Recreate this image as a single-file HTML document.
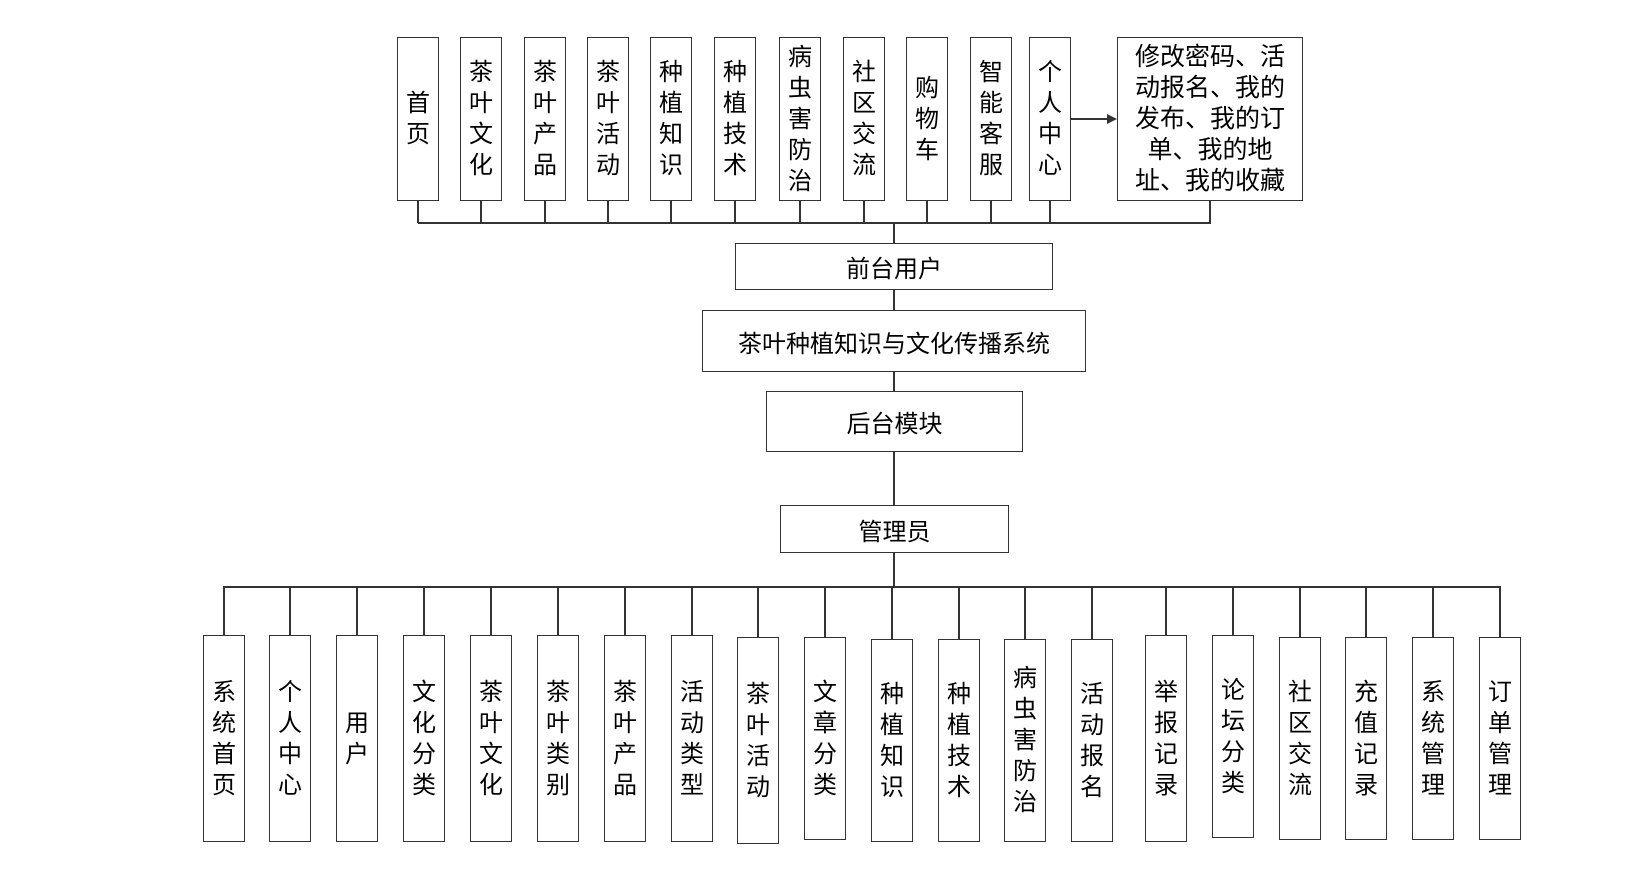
<!DOCTYPE html>
<html><head><meta charset="utf-8"><style>
body{margin:0;width:1641px;height:877px;background:#fff;position:relative;overflow:hidden;font-family:"Liberation Sans","Noto Sans CJK SC",sans-serif;color:#000}
.b{position:absolute;border:1.5px solid #333;box-sizing:border-box;display:flex;align-items:center;justify-content:center;text-align:center;background:#fff}
.v{font-size:24px;line-height:31px;width:26px;word-break:break-all}
.h{font-size:24px}
.l{position:absolute;background:#333}
</style></head><body>
<div class="b" style="left:397px;top:37px;width:42px;height:164px"><div class="v">首页</div></div>
<div class="b" style="left:460px;top:37px;width:42px;height:164px"><div class="v">茶叶文化</div></div>
<div class="b" style="left:524px;top:37px;width:42px;height:164px"><div class="v">茶叶产品</div></div>
<div class="b" style="left:587px;top:37px;width:42px;height:164px"><div class="v">茶叶活动</div></div>
<div class="b" style="left:650px;top:37px;width:42px;height:164px"><div class="v">种植知识</div></div>
<div class="b" style="left:714px;top:37px;width:42px;height:164px"><div class="v">种植技术</div></div>
<div class="b" style="left:779px;top:37px;width:42px;height:164px"><div class="v">病虫害防治</div></div>
<div class="b" style="left:843px;top:37px;width:42px;height:164px"><div class="v">社区交流</div></div>
<div class="b" style="left:906px;top:37px;width:42px;height:164px"><div class="v">购物车</div></div>
<div class="b" style="left:970px;top:37px;width:42px;height:164px"><div class="v">智能客服</div></div>
<div class="b" style="left:1029px;top:37px;width:42px;height:164px"><div class="v">个人中心</div></div>
<div class="b" style="left:1117px;top:37px;width:186px;height:164px"><div style="font-size:25px;line-height:31px;width:170px">修改密码、活动报名、我的发布、我的订单、我的地址、我的收藏</div></div>
<div class="l" style="left:1071px;top:118px;width:38px;height:2px"></div>
<div style="position:absolute;left:1107px;top:114px;width:0;height:0;border-left:10px solid #333;border-top:5px solid transparent;border-bottom:5px solid transparent"></div>
<div class="l" style="left:418px;top:222px;width:793px;height:2px"></div>
<div class="l" style="left:417px;top:201px;width:2px;height:22px"></div>
<div class="l" style="left:480px;top:201px;width:2px;height:22px"></div>
<div class="l" style="left:544px;top:201px;width:2px;height:22px"></div>
<div class="l" style="left:607px;top:201px;width:2px;height:22px"></div>
<div class="l" style="left:670px;top:201px;width:2px;height:22px"></div>
<div class="l" style="left:734px;top:201px;width:2px;height:22px"></div>
<div class="l" style="left:799px;top:201px;width:2px;height:22px"></div>
<div class="l" style="left:863px;top:201px;width:2px;height:22px"></div>
<div class="l" style="left:926px;top:201px;width:2px;height:22px"></div>
<div class="l" style="left:990px;top:201px;width:2px;height:22px"></div>
<div class="l" style="left:1049px;top:201px;width:2px;height:22px"></div>
<div class="l" style="left:1209px;top:201px;width:2px;height:22px"></div>
<div class="l" style="left:893px;top:222px;width:2px;height:365px"></div>
<div class="b h" style="left:735px;top:243px;width:318px;height:47px">前台用户</div>
<div class="b h" style="left:702px;top:310px;width:384px;height:62px">茶叶种植知识与文化传播系统</div>
<div class="b h" style="left:766px;top:391px;width:257px;height:61px">后台模块</div>
<div class="b h" style="left:780px;top:505px;width:229px;height:48px">管理员</div>
<div class="l" style="left:223px;top:586px;width:1278px;height:2px"></div>
<div id="bot"></div>
<script>
var L=[203,269,336,403,470,537,604,671,737,804,871,938,1004,1071,1145,1212,1279,1345,1412,1479];
var T=["系统首页","个人中心","用户","文化分类","茶叶文化","茶叶类别","茶叶产品","活动类型","茶叶活动","文章分类","种植知识","种植技术","病虫害防治","活动报名","举报记录","论坛分类","社区交流","充值记录","系统管理","订单管理"];
var tops=[635,635,635,635,635,635,635,635,637,637,639,639,639,639,635,635,637,637,637,637];
var bots=[842,842,842,842,842,842,842,842,844,840,842,842,842,842,842,838,840,840,840,840];
var h="";
for(var i=0;i<20;i++){
h+='<div class="l" style="left:'+(L[i]+20)+'px;top:587px;width:2px;height:'+(tops[i]-587)+'px"></div>';
h+='<div class="b" style="left:'+L[i]+'px;top:'+tops[i]+'px;width:42px;height:'+(bots[i]-tops[i])+'px"><div class="v">'+T[i]+'</div></div>';
}
document.getElementById("bot").outerHTML=h;
</script>
</body></html>
